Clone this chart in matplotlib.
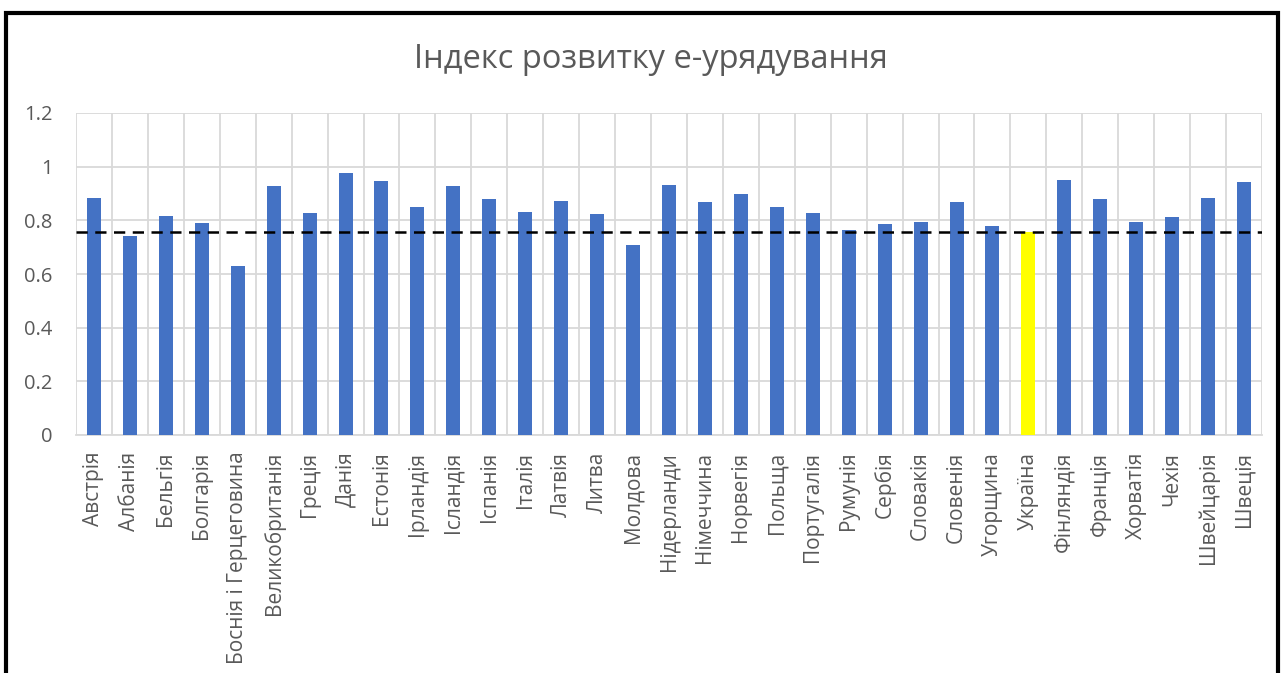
import numpy as np
import matplotlib.pyplot as plt
from matplotlib.patches import Rectangle

countries = ['Австрія', 'Албанія', 'Бельгія', 'Болгарія', 'Боснія і Герцеговина',
             'Великобританія', 'Греція', 'Данія', 'Естонія', 'Ірландія', 'Ісландія',
             'Іспанія', 'Італія', 'Латвія', 'Литва', 'Молдова', 'Нідерланди',
             'Німеччина', 'Норвегія', 'Польща', 'Португалія', 'Румунія', 'Сербія',
             'Словакія', 'Словенія', 'Угорщина', 'Україна', 'Фінляндія', 'Франція',
             'Хорватія', 'Чехія', 'Швейцарія', 'Швеція']
egdi = [0.884, 0.743, 0.818, 0.790, 0.631,
        0.929, 0.826, 0.976, 0.948, 0.851, 0.929,
        0.881, 0.832, 0.873, 0.823, 0.708, 0.933,
        0.868, 0.899, 0.851, 0.828, 0.764, 0.787,
        0.794, 0.868, 0.780, 0.758, 0.951, 0.879,
        0.794, 0.813, 0.884, 0.941]
highlight = 'Україна'
ukraine_level = 0.757

plt.rcParams['font.family'] = ['Open Sans', 'DejaVu Sans']

fig = plt.figure(figsize=(12.83, 6.73), dpi=100)
ax = fig.add_axes([76 / 1283, 1 - 435 / 673, (1262 - 76) / 1283, (435 - 113) / 673])

x = np.arange(len(countries))
colors = ['#ffff00' if c == highlight else '#4472c4' for c in countries]
ax.bar(x, egdi, width=0.39, color=colors, zorder=3)
ax.axhline(ukraine_level, color='black', lw=1.8, ls=(0, (4.5, 3)), zorder=4)

ax.set_xlim(-0.5, len(countries) - 0.5)
ax.set_ylim(0, 1.2)
ax.set_yticks(np.arange(0, 1.21, 0.2))
ax.set_yticklabels(['0', '0.2', '0.4', '0.6', '0.8', '1', '1.2'])
ax.set_xticks(x)
ax.set_xticklabels(countries, rotation=90)
ax.set_xticks(np.arange(-0.5, len(countries), 1), minor=True)

ax.grid(axis='y', color='#d9d9d9', lw=1.3, zorder=0)
ax.grid(axis='x', which='minor', color='#d9d9d9', lw=1.3, zorder=0)
ax.grid(axis='x', which='major', visible=False)
for s in ['top', 'right', 'left']:
    ax.spines[s].set_visible(False)
ax.spines['bottom'].set_color('#d9d9d9')
ax.spines['bottom'].set_linewidth(1.3)
ax.tick_params(which='both', length=0, colors='#595959', labelsize=14.5)
ax.tick_params(axis='x', labelsize=15)
ax.tick_params(axis='y', pad=17)
ax.tick_params(axis='x', pad=12)

fig.text(0.507, 1 - 60 / 673, 'Індекс розвитку е-урядування', ha='center', va='center',
         fontsize=23.5, color='#595959')

fig.patches.append(Rectangle((5.5 / 1283, -0.1), 1272 / 1283, 1.1 - 13.5 / 673,
                             transform=fig.transFigure, fill=False, ec='black', lw=3))

fig.savefig('out.png', dpi=100)
